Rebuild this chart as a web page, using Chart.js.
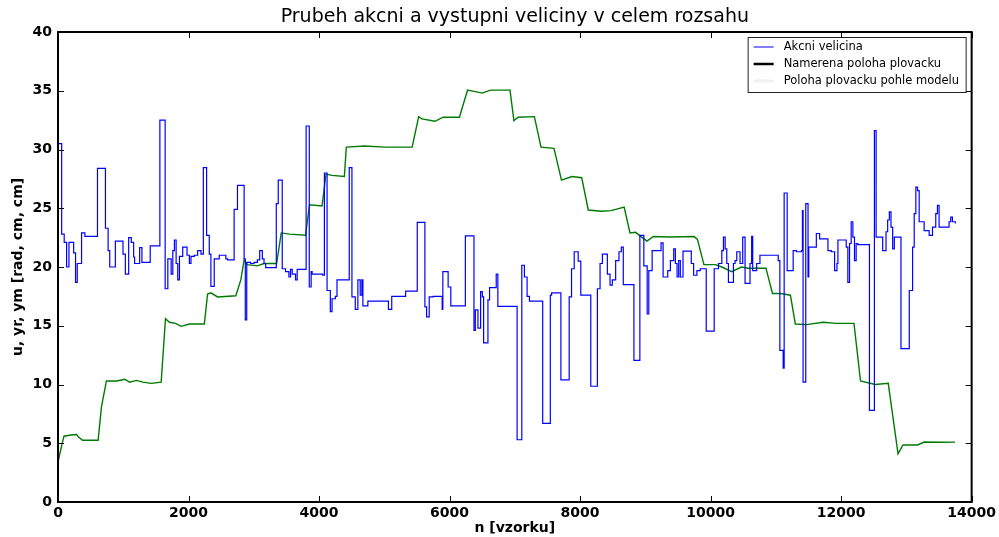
<!DOCTYPE html>
<html>
<head>
<meta charset="utf-8">
<script src="https://cdn.jsdelivr.net/npm/chart.js@4.4.1/dist/chart.umd.min.js"></script>
<style>
  html, body { margin: 0; padding: 0; background: #fff; }
  #wrap { width: 999px; height: 537px; }
</style>
</head>
<body>
<div id="wrap"><canvas id="lineChart"></canvas></div>
<script>
// akcni velicina u (sample-and-hold, value holds until next change)
const uX = [0, 56, 95, 132, 168, 240, 269, 295, 361, 412, 605, 727, 768, 793, 879, 996, 1032, 1083, 1123, 1159,
  1174, 1251, 1286, 1413, 1561, 1642, 1683, 1734, 1759, 1784, 1810, 1835, 1861, 1911, 1977, 2013, 2038, 2089, 2140, 2191,
  2227, 2277, 2318, 2343, 2394, 2471, 2572, 2598, 2699, 2750, 2852, 2870, 2892, 2953, 3004, 3055, 3091, 3131, 3157, 3182,
  3345, 3375, 3436, 3487, 3538, 3563, 3589, 3640, 3665, 3802, 3850, 3879, 3894, 4056, 4082, 4123, 4173, 4199, 4250, 4275,
  4463, 4504, 4555, 4595, 4631, 4656, 4672, 4748, 5063, 5114, 5327, 5505, 5622, 5648, 5688, 5749, 5887, 5897, 5978, 6019,
  6242, 6374, 6395, 6435, 6476, 6502, 6522, 6588, 6613, 6715, 6740, 7035, 7107, 7147, 7188, 7224, 7427, 7544, 7564, 7706,
  7833, 7869, 7910, 7971, 8011, 8164, 8265, 8306, 8342, 8418, 8459, 8494, 8545, 8596, 8632, 8662, 8825, 8916, 8977, 9028,
  9053, 9104, 9241, 9272, 9343, 9384, 9435, 9460, 9486, 9511, 9536, 9577, 9704, 9740, 9790, 9841, 9933, 10055, 10121, 10172,
  10197, 10223, 10248, 10273, 10350, 10375, 10401, 10451, 10492, 10528, 10604, 10629, 10645, 10706, 10756, 11036, 11061, 11112, 11127, 11173,
  11265, 11315, 11392, 11407, 11417, 11458, 11493, 11504, 11620, 11671, 11798, 11849, 11900, 11936, 11951, 12027, 12078, 12103, 12129, 12154,
  12180, 12205, 12230, 12256, 12434, 12510, 12536, 12637, 12688, 12713, 12739, 12764, 12790, 12815, 12917, 13044, 13095, 13120, 13145, 13171,
  13196, 13272, 13349, 13400, 13450, 13476, 13501, 13654, 13679, 13705, 13750];
const uY = [30.5, 22.8, 22.1, 20.0, 22.1, 21.2, 18.7, 20.3, 22.9, 22.6, 28.4, 23.3, 21.4, 20.0, 22.2, 21.1, 19.4, 22.5, 22.1, 20.85,
  20.3, 21.65, 20.4, 21.8, 32.5, 18.15, 20.7, 19.4, 21.4, 22.3, 20.3, 18.9, 20.9, 21.7, 21.0, 20.3, 20.9, 21.0, 21.4, 21.1,
  28.45, 22.7, 21.1, 18.35, 20.7, 21.0, 20.7, 20.6, 24.9, 26.95, 20.7, 15.5, 20.4, 20.3, 20.4, 20.6, 21.4, 20.7, 20.3, 19.95,
  25.4, 27.4, 19.85, 19.6, 19.15, 19.8, 19.4, 18.9, 19.8, 32.0, 18.3, 19.6, 19.4, 19.3, 28.0, 18.0, 16.2, 17.3, 17.5, 18.9,
  28.45, 17.45, 16.4, 18.9, 17.6, 18.9, 16.7, 17.1, 16.4, 17.5, 17.95, 23.8, 16.6, 15.75, 17.45, 17.5, 16.4, 19.6, 18.3, 16.7,
  22.65, 14.6, 16.35, 14.8, 17.9, 17.45, 13.55, 17.2, 18.25, 19.4, 16.65, 5.3, 20.15, 19.15, 17.5, 17.1, 6.7, 17.6, 17.8, 10.4,
  17.45, 19.85, 21.3, 20.5, 17.6, 9.85, 18.15, 20.3, 21.1, 19.4, 18.45, 18.9, 20.55, 21.3, 21.7, 18.5, 12.05, 22.7, 20.1, 16.0,
  19.7, 21.4, 22.05, 19.15, 19.7, 20.55, 21.55, 20.3, 19.15, 20.55, 19.15, 21.35, 20.3, 19.3, 19.7, 19.85, 14.55, 19.85, 20.3, 21.4,
  22.55, 21.55, 20.3, 18.7, 20.3, 20.55, 21.3, 20.3, 22.55, 18.6, 20.3, 22.6, 19.7, 20.3, 21.0, 20.55, 12.9, 11.4, 26.3, 19.7,
  21.4, 21.3, 21.4, 24.8, 10.2, 25.4, 19.15, 21.7, 22.85, 22.4, 21.4, 21.3, 19.7, 20.3, 22.3, 22.3, 21.7, 18.7, 22.0, 23.85,
  22.55, 20.55, 22.0, 21.9, 7.8, 31.6, 22.55, 21.4, 23.0, 24.0, 24.7, 23.4, 21.55, 22.55, 13.05, 18.0, 21.7, 24.55, 26.8, 26.5,
  23.85, 23.1, 22.7, 23.4, 24.55, 25.25, 23.4, 23.85, 24.25, 23.85, 23.7];

// namerena poloha plovacku yr
const yrX = [0, 56, 92, 200, 285, 310, 376, 615, 666, 742, 900, 1022, 1098, 1200, 1300, 1429, 1581, 1647, 1708, 1800,
  1886, 2013, 2242, 2292, 2343, 2445, 2725, 2801, 2852, 2902, 3055, 3157, 3350, 3421, 3550, 3793, 3854, 4046, 4107, 4200,
  4388, 4418, 4700, 5000, 5427, 5527, 5577, 5776, 5901, 6151, 6276, 6376, 6501, 6626, 6926, 6986, 7050, 7300, 7401, 7600,
  7715, 7875, 8025, 8125, 8325, 8475, 8675, 8765, 8850, 9024, 9124, 9374, 9748, 9798, 9898, 10073, 10173, 10323, 10473, 10573,
  10848, 10948, 11073, 11223, 11298, 11472, 11722, 11922, 12197, 12297, 12522, 12722, 12872, 12947, 13172, 13272, 13521, 13745];
const yrY = [3.4, 4.8, 5.6, 5.7, 5.75, 5.55, 5.25, 5.25, 8.1, 10.3, 10.3, 10.45, 10.2, 10.35, 10.2, 10.1, 10.2, 15.6, 15.3, 15.2,
  14.95, 15.15, 15.15, 17.7, 17.8, 17.45, 17.55, 18.9, 20.6, 20.2, 20.1, 20.3, 20.3, 22.9, 22.8, 22.7, 25.3, 25.2, 27.9, 27.8,
  27.7, 30.2, 30.3, 30.2, 30.2, 32.8, 32.6, 32.4, 32.75, 32.75, 35.05, 34.95, 34.8, 35.05, 35.05, 32.45, 32.75, 32.8, 30.2, 30.1,
  27.4, 27.7, 27.6, 24.85, 24.75, 24.8, 25.1, 22.9, 22.95, 22.2, 22.6, 22.55, 22.6, 22.35, 20.2, 20.2, 20.0, 19.6, 20.0, 19.9,
  19.9, 17.75, 17.75, 17.6, 15.15, 15.1, 15.3, 15.2, 15.2, 10.3, 10.0, 10.1, 4.1, 4.85, 4.85, 5.1, 5.08, 5.1];

const chartTitle = 'Prubeh akcni a vystupni veliciny v celem rozsahu';
const legendNames = ['Akcni velicina', 'Namerena poloha plovacku', 'Poloha plovacku pohle modelu'];
const legendColors = ['#0000ff', '#000000', '#eef3ee'];
const legendWidths = [1, 2.5, 3];

const toPoints = (xs, ys) => xs.map((x, i) => ({x: x, y: ys[i]}));

// title centred over the axes, frame, inward ticks and boxed legend like the original plot
const framePlugin = {
  id: 'framePlugin',
  afterDraw(chart) {
    const {ctx, chartArea: a, scales: {x, y}} = chart;
    ctx.save();
    ctx.fillStyle = '#000';
    ctx.font = '19px "DejaVu Sans"';
    ctx.textAlign = 'center';
    ctx.textBaseline = 'middle';
    ctx.fillText(chartTitle, (a.left + a.right) / 2, 17);
    ctx.textAlign = 'left';

    ctx.strokeStyle = '#000';
    ctx.lineWidth = 1;
    const seg = (x1, y1, x2, y2) => { ctx.beginPath(); ctx.moveTo(x1, y1); ctx.lineTo(x2, y2); ctx.stroke(); };
    x.ticks.forEach(t => {
      const px = Math.round(x.getPixelForValue(t.value)) + 0.5;
      seg(px, a.bottom, px, a.bottom - 6);
      seg(px, a.top, px, a.top + 6);
    });
    y.ticks.forEach(t => {
      const py = Math.round(y.getPixelForValue(t.value)) + 0.5;
      seg(a.left, py, a.left + 6, py);
      seg(a.right, py, a.right - 6, py);
    });
    ctx.lineWidth = 2;
    ctx.strokeRect(a.left, a.top, a.right - a.left, a.bottom - a.top);

    // legend box
    const bw = 218, bh = 55;
    const bx = a.right - 224, by = a.top + 5;
    ctx.fillStyle = '#fff';
    ctx.fillRect(bx, by, bw, bh);
    ctx.lineWidth = 1;
    ctx.strokeStyle = '#222';
    ctx.strokeRect(bx + 0.5, by + 0.5, bw, bh);
    ctx.font = '11.5px "DejaVu Sans"';
    legendNames.forEach((name, i) => {
      const ly = by + 10 + i * 17;
      ctx.strokeStyle = legendColors[i];
      ctx.lineWidth = legendWidths[i];
      seg(bx + 6, ly, bx + 26, ly);
      ctx.fillStyle = '#000';
      ctx.fillText(name, bx + 36, ly);
    });
    ctx.restore();
  }
};

const ctx = document.getElementById('lineChart');
const lineChart = new Chart(ctx, {
  type: 'line',
  data: {
    datasets: [{
      label: legendNames[0],
      data: toPoints(uX, uY),
      borderColor: '#0000ff',
      borderWidth: 1.2,
      stepped: true,
      pointRadius: 0,
      fill: false
    }, {
      label: legendNames[1],
      data: toPoints(yrX, yrY),
      borderColor: '#007a00',
      borderWidth: 1.4,
      tension: 0,
      pointRadius: 0,
      fill: false
    }]
  },
  plugins: [framePlugin],
  options: {
    responsive: true,
    maintainAspectRatio: false,
    animation: false,
    layout: { padding: { top: 32, right: 23, left: 0, bottom: 0 } },
    plugins: {
      legend: { display: false },
      tooltip: { enabled: false },
      title: { display: false }
    },
    scales: {
      x: {
        type: 'linear',
        min: 0,
        max: 14000,
        grid: { display: false, drawTicks: false },
        border: { display: false },
        ticks: { stepSize: 2000, color: '#000', padding: 3, maxRotation: 0,
          callback: v => String(v),
          font: { family: 'DejaVu Sans', size: 14, weight: 'bold' } },
        title: { display: true, text: 'n [vzorku]', color: '#000', padding: 0,
          font: { family: 'DejaVu Sans', size: 14, weight: 'bold' } },
        afterFit: s => { s.height = 35; }
      },
      y: {
        min: 0,
        max: 40,
        grid: { display: false, drawTicks: false },
        border: { display: false },
        ticks: { stepSize: 5, color: '#000', padding: 6,
          font: { family: 'DejaVu Sans', size: 14, weight: 'bold' } },
        title: { display: true, text: 'u, yr, ym [rad, cm, cm]', color: '#000', padding: { top: 10, bottom: 0 },
          font: { family: 'DejaVu Sans', size: 14, weight: 'bold' } },
        afterFit: s => { s.width = 58; }
      }
    }
  }
});
</script>
</body>
</html>
